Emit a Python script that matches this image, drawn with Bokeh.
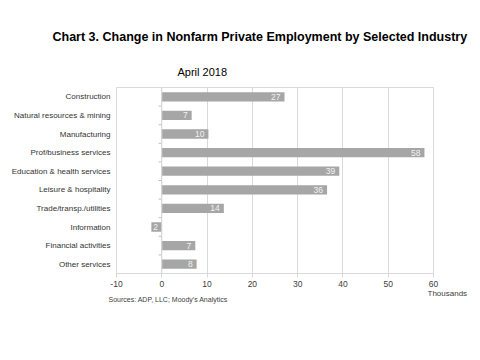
from bokeh.plotting import figure
from bokeh.models import Range1d, FixedTicker, Title, Span, ColumnDataSource
from bokeh.core.properties import value
from bokeh.embed import file_html
from bokeh.resources import INLINE

categories = ["Construction", "Natural resources & mining", "Manufacturing",
              "Prof/business services", "Education & health services",
              "Leisure & hospitality", "Trade/transp./utilities", "Information",
              "Financial activities", "Other services"]
values = [27.1, 6.6, 10.3, 58.0, 39.2, 36.5, 13.7, -2.3, 7.4, 7.7]
bar_labels = ["27", "7", "10", "58", "39", "36", "14", "2", "7", "8"]
x_ticks = [-10, 0, 10, 20, 30, 40, 50, 60]

title_text = "Chart 3. Change in Nonfarm Private Employment by Selected Industry"
subtitle_text = "April 2018"
unit_text = "Thousands"
source_text = "Sources: ADP, LLC; Moody's Analytics"

FONT = "Liberation Sans"
n = len(categories)
ypos = [n - i - 0.5 for i in range(n)]

p = figure(width=476, height=352, output_backend="svg", toolbar_location=None,
           x_range=Range1d(-10, 60), y_range=Range1d(0, n),
           min_border_left=116, min_border_right=43, min_border_top=87,
           min_border_bottom=79)
p.background_fill_color = "white"
p.border_fill_color = "white"
p.outline_line_color = "#d9d9d9"
p.outline_line_width = 1

p.xgrid.grid_line_color = "#d9d9d9"
p.ygrid.grid_line_color = None

p.xaxis.ticker = FixedTicker(ticks=x_ticks)
p.xaxis.major_label_overrides = {t: str(t) for t in x_ticks}
p.xaxis.axis_line_color = "#d9d9d9"
p.xaxis.major_tick_line_color = "#d9d9d9"
p.xaxis.major_tick_in = 0
p.xaxis.major_tick_out = 4
p.xaxis.minor_tick_line_color = None
p.xaxis.major_label_text_font = FONT
p.xaxis.major_label_text_font_size = "8.5px"
p.xaxis.major_label_text_color = "#404040"
p.xaxis.major_label_standoff = 3

p.yaxis.ticker = FixedTicker(ticks=ypos)
p.yaxis.major_label_overrides = {y: c for y, c in zip(ypos, categories)}
p.yaxis.axis_line_color = None
p.yaxis.major_tick_line_color = None
p.yaxis.major_tick_in = 0
p.yaxis.major_tick_out = 0
p.yaxis.minor_tick_line_color = None
p.yaxis.major_label_text_font = FONT
p.yaxis.major_label_text_font_size = "8px"
p.yaxis.major_label_text_color = "#333333"
p.yaxis.major_label_standoff = 6

src = ColumnDataSource(dict(y=ypos, v=values, lab=bar_labels))
p.hbar(y="y", left=0, right="v", height=0.5, source=src,
       fill_color="#a6a6a6", line_color=None)

# zero line with small category ticks
p.add_layout(Span(location=0, dimension="height", line_color="#d9d9d9", line_width=1))
sep = [float(k) for k in range(1, n)]
p.segment(x0=[-0.7] * len(sep), x1=[0] * len(sep), y0=sep, y1=sep,
          line_color="#bfbfbf", line_width=1)

pos = [i for i in range(n) if values[i] >= 0]
neg = [i for i in range(n) if values[i] < 0]
p.text(x=[values[i] for i in pos], y=[ypos[i] for i in pos],
       text=[bar_labels[i] for i in pos], text_align="right", text_baseline="middle",
       x_offset=-4, text_font=value(FONT), text_font_size="8.5px", text_color="#f2f2f2")
p.text(x=[values[i] for i in neg], y=[ypos[i] for i in neg],
       text=[bar_labels[i] for i in neg], text_align="left", text_baseline="middle",
       x_offset=2, text_font=value(FONT), text_font_size="8.5px", text_color="#f2f2f2")

# titles: p.title ends up outermost, the added one sits next to the frame
p.title.text = title_text
p.title.text_font = FONT
p.title.text_font_style = "bold"
p.title.text_font_size = "12.5px"
p.title.text_color = "black"
p.title.align = "left"
p.title.offset = -64
p.title.standoff = 20

p.add_layout(Title(text=subtitle_text, text_font=FONT, text_font_style="normal",
                   text_font_size="11px", text_color="black",
                   align="left", offset=61, standoff=20), "above")

p.add_layout(Title(text=unit_text, text_font=FONT, text_font_style="normal",
                   text_font_size="8px", text_color="#404040",
                   align="left", offset=311, standoff=-6), "below")
p.add_layout(Title(text=source_text, text_font=FONT, text_font_style="normal",
                   text_font_size="7px", text_color="#404040",
                   align="left", offset=-8, standoff=-2), "below")

open("out.html", "w").write(file_html(p, INLINE))
